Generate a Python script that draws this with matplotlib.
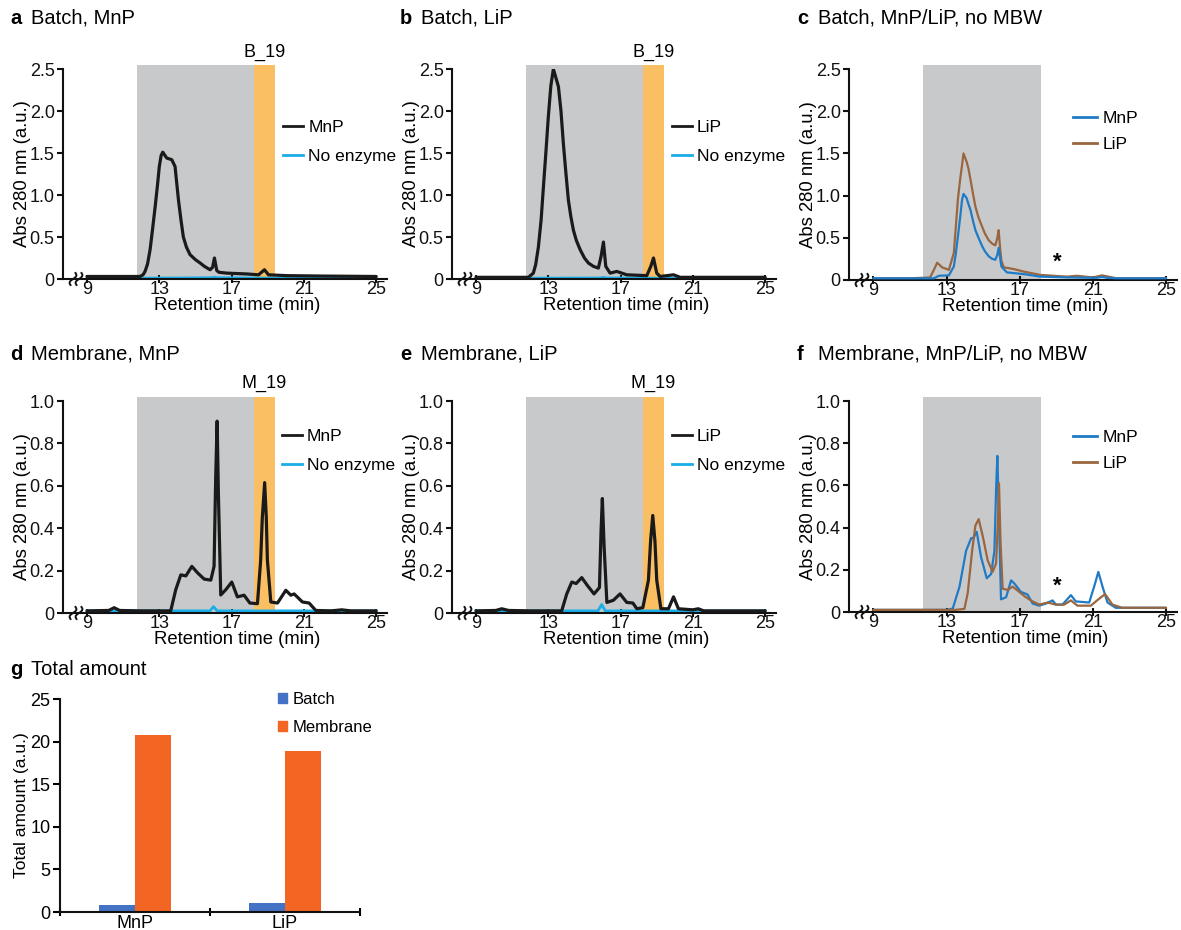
import numpy as np
import matplotlib
matplotlib.use("Agg")
import matplotlib.pyplot as plt
from matplotlib.patches import Patch
from matplotlib.lines import Line2D

plt.rcParams['font.family'] = ['Liberation Sans', 'DejaVu Sans']

# ---------------- data ----------------
# panel a: Batch, MnP
a_t = [9.0, 10.0, 11.0, 11.93, 12.1, 12.21, 12.35, 12.49, 12.63, 12.77, 12.9, 13.0, 13.1, 13.19,
       13.41, 13.69, 13.87, 14.06, 14.2, 14.33, 14.5, 14.7, 15.0, 15.26, 15.5, 15.81, 15.95,
       16.05, 16.18, 16.3, 16.73, 17.84, 18.49, 18.82, 19.04, 20.06, 22.0, 25.0]
a_mnp = [0.03, 0.03, 0.03, 0.03, 0.05, 0.09, 0.18, 0.35, 0.6, 0.86, 1.12, 1.34, 1.47, 1.51,
         1.44, 1.42, 1.34, 0.94, 0.7, 0.50, 0.38, 0.29, 0.23, 0.19, 0.15, 0.11, 0.14,
         0.25, 0.10, 0.08, 0.07, 0.06, 0.05, 0.11, 0.05, 0.04, 0.035, 0.03]
a_ne_t = [9.0, 12.0, 14.0, 15.9, 16.05, 16.2, 18.0, 21.0, 25.0]
a_ne = [0.02, 0.01, 0.012, 0.015, 0.022, 0.015, 0.012, 0.01, 0.01]

# panel b: Batch, LiP
b_t = [9.0, 10.0, 11.0, 11.9, 12.17, 12.3, 12.45, 12.6, 12.73, 12.87, 13.0, 13.14, 13.28, 13.56,
       13.7, 13.83, 13.97, 14.11, 14.25, 14.39, 14.55, 14.76, 15.0, 15.22, 15.5, 15.77, 15.92,
       16.05, 16.18, 16.42, 16.79, 17.34, 18.45, 18.67, 18.82, 19.0, 19.19, 19.93, 20.3, 22.0, 25.0]
b_lip = [0.02, 0.02, 0.02, 0.02, 0.07, 0.17, 0.38, 0.7, 1.10, 1.52, 1.93, 2.3, 2.50, 2.29,
         2.0, 1.62, 1.27, 0.94, 0.74, 0.58, 0.46, 0.35, 0.25, 0.19, 0.15, 0.13, 0.27,
         0.44, 0.15, 0.07, 0.09, 0.05, 0.04, 0.15, 0.25, 0.07, 0.03, 0.05, 0.02, 0.02, 0.02]
b_ne_t = [9.0, 12.0, 15.9, 16.05, 16.2, 19.0, 25.0]
b_ne = [0.015, 0.01, 0.012, 0.02, 0.012, 0.01, 0.01]

# panel c: Batch, MnP/LiP, no MBW
c_mnp_t = [9.0, 11.0, 12.31, 12.58, 13.13, 13.4, 13.5, 13.62, 13.75, 13.85, 13.93, 14.1, 14.2,
           14.31, 14.45, 14.58, 14.75, 14.95, 15.1, 15.31, 15.5, 15.67, 15.78, 15.85, 15.92,
           16.0, 16.3, 17.22, 18.13, 19.58, 21.2, 21.5, 21.8, 22.3, 25.0]
c_mnp = [0.02, 0.02, 0.02, 0.05, 0.055, 0.16, 0.3, 0.51, 0.75, 0.95, 1.02, 0.97, 0.9,
         0.83, 0.7, 0.59, 0.5, 0.40, 0.34, 0.28, 0.25, 0.24, 0.3, 0.38, 0.28,
         0.16, 0.09, 0.07, 0.04, 0.03, 0.025, 0.035, 0.025, 0.02, 0.02]
c_lip_t = [9.0, 11.0, 12.1, 12.31, 12.49, 12.76, 13.13, 13.4, 13.5, 13.62, 13.75, 13.85, 13.93,
           14.1, 14.2, 14.31, 14.45, 14.58, 14.75, 14.95, 15.1, 15.31, 15.5, 15.67, 15.78,
           15.85, 15.92, 16.0, 16.13, 16.67, 17.22, 18.13, 19.58, 20.13, 21.0, 21.5, 22.3, 25.0]
c_lip = [0.02, 0.02, 0.03, 0.12, 0.205, 0.15, 0.12, 0.32, 0.6, 0.95, 1.2, 1.36, 1.50,
         1.40, 1.32, 1.19, 1.02, 0.87, 0.74, 0.63, 0.55, 0.47, 0.43, 0.41, 0.5,
         0.59, 0.4, 0.23, 0.15, 0.13, 0.10, 0.06, 0.04, 0.05, 0.03, 0.055, 0.02, 0.02]

# panel d: Membrane, MnP
d_t = [9.0, 10.2, 10.5, 10.8, 12.0, 13.63, 13.91, 14.19, 14.47, 14.8, 15.11, 15.48, 15.85, 16.03,
       16.12, 16.2, 16.27, 16.4, 16.68, 17.01, 17.32, 17.69, 18.01, 18.43, 18.61, 18.7, 18.83,
       18.92, 18.98, 19.17, 19.54, 20.0, 20.28, 20.46, 20.92, 21.29, 21.66, 22.5, 23.1, 23.6, 25.0]
d_mnp = [0.01, 0.012, 0.025, 0.012, 0.01, 0.01, 0.11, 0.18, 0.175, 0.22, 0.19, 0.16, 0.155, 0.22,
         0.64, 0.905, 0.56, 0.085, 0.11, 0.146, 0.076, 0.084, 0.047, 0.044, 0.25, 0.45, 0.615,
         0.45, 0.25, 0.052, 0.047, 0.107, 0.084, 0.09, 0.052, 0.047, 0.012, 0.01, 0.015, 0.01, 0.01]
d_ne_t = [9.0, 15.8, 16.0, 16.2, 25.0]
d_ne = [0.01, 0.01, 0.03, 0.01, 0.01]

# panel e: Membrane, LiP
e_t = [9.0, 10.1, 10.42, 10.8, 12.0, 13.74, 14.02, 14.3, 14.54, 14.85, 15.16, 15.53, 15.83, 15.92,
       15.99, 16.09, 16.24, 16.6, 16.97, 17.34, 17.68, 17.9, 18.23, 18.54, 18.66, 18.78, 18.9,
       19.0, 19.23, 19.65, 19.93, 20.2, 21.0, 21.3, 21.6, 25.0]
e_lip = [0.01, 0.012, 0.02, 0.012, 0.01, 0.01, 0.09, 0.146, 0.139, 0.167, 0.13, 0.09, 0.12, 0.39,
         0.54, 0.31, 0.05, 0.06, 0.09, 0.05, 0.047, 0.02, 0.025, 0.155, 0.34, 0.46, 0.34,
         0.155, 0.02, 0.02, 0.076, 0.02, 0.015, 0.02, 0.01, 0.01]
e_ne_t = [9.0, 15.75, 15.95, 16.15, 25.0]
e_ne = [0.01, 0.01, 0.04, 0.01, 0.01]

# panel f: Membrane, MnP/LiP, no MBW
f_mnp_t = [9.0, 11.0, 13.0, 13.34, 13.71, 14.07, 14.35, 14.47, 14.65, 14.89, 15.2, 15.44, 15.62,
           15.71, 15.78, 15.85, 15.98, 16.26, 16.53, 16.71, 17.07, 17.43, 17.71, 18.07, 18.44,
           18.8, 18.98, 19.34, 19.8, 20.07, 20.8, 21.07, 21.3, 21.53, 21.8, 22.25, 25.0]
f_mnp = [0.01, 0.01, 0.01, 0.016, 0.12, 0.29, 0.35, 0.35, 0.38, 0.26, 0.16, 0.18, 0.29,
         0.58, 0.74, 0.50, 0.06, 0.07, 0.15, 0.135, 0.095, 0.083, 0.04, 0.03, 0.04,
         0.055, 0.035, 0.035, 0.08, 0.05, 0.045, 0.12, 0.19, 0.12, 0.045, 0.02, 0.02]
f_lip_t = [9.0, 11.0, 13.5, 13.98, 14.16, 14.4, 14.58, 14.76, 14.98, 15.25, 15.52, 15.71, 15.8,
           15.87, 15.95, 16.07, 16.34, 16.62, 16.98, 17.34, 17.71, 18.07, 18.53, 18.98, 19.43,
           19.8, 20.16, 20.89, 21.3, 21.67, 22.07, 22.6, 23.5, 25.0]
f_lip = [0.01, 0.01, 0.01, 0.015, 0.09, 0.29, 0.41, 0.44, 0.36, 0.245, 0.19, 0.23, 0.41,
         0.61, 0.34, 0.11, 0.105, 0.12, 0.095, 0.07, 0.05, 0.035, 0.045, 0.035, 0.035,
         0.055, 0.03, 0.03, 0.06, 0.085, 0.035, 0.02, 0.02, 0.02]

# panel g: Total amount
g_categories = ['MnP', 'LiP']
g_batch = [0.78, 1.08]
g_membrane = [20.77, 18.93]

x_ticks = [9, 13, 17, 21, 25]
y_ticks_top = [0, 0.5, 1.0, 1.5, 2.0, 2.5]
y_ticklabels_top = ['0', '0.5', '1.0', '1.5', '2.0', '2.5']
y_ticks_mid = [0, 0.2, 0.4, 0.6, 0.8, 1.0]
y_ticklabels_mid = ['0', '0.2', '0.4', '0.6', '0.8', '1.0']
g_yticks = [0, 5, 10, 15, 20, 25]

gray_span_ab = (11.75, 18.25)
orange_span = (18.25, 19.38)
gray_span_cf = (11.73, 18.15)

# ---------------- styles ----------------
BLACK = '#1a1a1a'
NOENZ = '#1aaee8'
BLUE = '#1f7bc6'
BROWN = '#9a6640'
GRAY = '#c8c9cb'
ORANGE = '#fbbf63'
BAR_BLUE = '#4472c4'
BAR_ORANGE = '#f26522'

W, H = 1181, 930
fig = plt.figure(figsize=(W / 100, H / 100), dpi=100)


def rect(left, bottom_px, width, height):
    return [left / W, 1 - bottom_px / H, width / W, height / H]


TICK_FS = 13
LAB_FS = 13.3
LEG_FS = 12.5
TITLE_FS = 14.5


def style_axes(ax, yt, ytl, ymax, width_px, height_px):
    for s in ['top', 'right']:
        ax.spines[s].set_visible(False)
    for s in ['left', 'bottom']:
        ax.spines[s].set_linewidth(1.5)
        ax.spines[s].set_color('#111111')
    ax.set_xlim(7.67, 25.6)
    ax.set_ylim(0, ymax)
    ax.set_xticks(x_ticks)
    ax.set_xticklabels([str(v) for v in x_ticks])
    ax.set_yticks(yt)
    ax.set_yticklabels(ytl)
    ax.tick_params(axis='x', labelsize=TICK_FS, width=1.5, length=6, direction='inout',
                   pad=-1.5, colors='#111111')
    ax.tick_params(axis='y', labelsize=TICK_FS, width=1.5, length=4, pad=2, colors='#111111')
    ax.set_xlabel('Retention time (min)', fontsize=LAB_FS)
    ax.xaxis.set_label_coords(0.537, -18 / height_px)
    ax.set_ylabel('Abs 280 nm (a.u.)', fontsize=LAB_FS)
    ax.yaxis.set_label_coords(-32 / width_px, 0.5)
    # axis break marks
    s = np.linspace(-1, 1, 30)
    for xc in (10 / width_px, 16 / width_px):
        ax.plot(xc + 2.5 / width_px * s + 2.0 / width_px * np.sin(np.pi * s),
                6 / height_px * s, transform=ax.transAxes, color='#111111',
                lw=1.4, clip_on=False, zorder=6)


def legend(ax, handles, labels, x, y, hl, ls):
    ax.legend(handles, labels, loc='center left', bbox_to_anchor=(x, y), frameon=False,
              fontsize=LEG_FS, handlelength=hl, handletextpad=0.3, borderpad=0,
              borderaxespad=0, labelspacing=ls)


def title(x_px, y_px, letter, text):
    fig.text(x_px / W, 1 - y_px / H, letter, fontsize=TITLE_FS, fontweight='bold', va='center')
    fig.text((x_px + 21) / W, 1 - y_px / H, text, fontsize=TITLE_FS, va='center')


LINE_KW = dict(solid_joinstyle='round', solid_capstyle='round')

# ---------- a ----------
axa = fig.add_axes(rect(63, 279, 324, 210))
axa.axvspan(*gray_span_ab, ymin=0, ymax=1.02, color=GRAY, lw=0, clip_on=False, zorder=0)
axa.axvspan(*orange_span, ymin=0, ymax=1.02, color=ORANGE, lw=0, clip_on=False, zorder=0)
axa.plot(a_ne_t, a_ne, color=NOENZ, lw=2, zorder=2)
axa.plot(a_t, a_mnp, color=BLACK, lw=2.3, zorder=3, **LINE_KW)
style_axes(axa, y_ticks_top, y_ticklabels_top, 2.5, 324, 210)
axa.text(np.mean(orange_span), 2.70, 'B_19', ha='center', va='center', fontsize=13, clip_on=False)
legend(axa, [Line2D([], [], color=BLACK, lw=2), Line2D([], [], color=NOENZ, lw=2)],
       ['MnP', 'No enzyme'], 0.679, 0.652, 1.15, 0.8)
title(10, 18, 'a', 'Batch, MnP')

# ---------- b ----------
axb = fig.add_axes(rect(452, 279, 324, 210))
axb.axvspan(*gray_span_ab, ymin=0, ymax=1.02, color=GRAY, lw=0, clip_on=False, zorder=0)
axb.axvspan(*orange_span, ymin=0, ymax=1.02, color=ORANGE, lw=0, clip_on=False, zorder=0)
axb.plot(b_ne_t, b_ne, color=NOENZ, lw=2, zorder=2)
axb.plot(b_t, b_lip, color=BLACK, lw=2.3, zorder=3, **LINE_KW)
style_axes(axb, y_ticks_top, y_ticklabels_top, 2.5, 324, 210)
axb.text(np.mean(orange_span), 2.70, 'B_19', ha='center', va='center', fontsize=13, clip_on=False)
legend(axb, [Line2D([], [], color=BLACK, lw=2), Line2D([], [], color=NOENZ, lw=2)],
       ['LiP', 'No enzyme'], 0.678, 0.652, 1.15, 0.8)
title(400, 18, 'b', 'Batch, LiP')

# ---------- c ----------
axc = fig.add_axes(rect(849, 280, 328, 211))
axc.axvspan(*gray_span_cf, ymin=0, ymax=1.02, color=GRAY, lw=0, clip_on=False, zorder=0)
axc.plot(c_mnp_t, c_mnp, color=BLUE, lw=1.6, zorder=3, **LINE_KW)
axc.plot(c_lip_t, c_lip, color=BROWN, lw=1.6, zorder=2, **LINE_KW)
style_axes(axc, y_ticks_top, y_ticklabels_top, 2.5, 328, 211)
axc.text(19.05, 0.21, '*', ha='center', va='center', fontsize=16, fontweight='bold')
legend(axc, [Line2D([], [], color=BLUE, lw=2), Line2D([], [], color=BROWN, lw=2)],
       ['MnP', 'LiP'], 0.683, 0.703, 1.4, 0.62)
title(797, 18, 'c', 'Batch, MnP/LiP, no MBW')

# ---------- d ----------
axd = fig.add_axes(rect(63, 613, 324, 212))
axd.axvspan(*gray_span_ab, ymin=0, ymax=1.02, color=GRAY, lw=0, clip_on=False, zorder=0)
axd.axvspan(*orange_span, ymin=0, ymax=1.02, color=ORANGE, lw=0, clip_on=False, zorder=0)
axd.plot(d_ne_t, d_ne, color=NOENZ, lw=2, zorder=2)
axd.plot(d_t, d_mnp, color=BLACK, lw=2.3, zorder=3, **LINE_KW)
style_axes(axd, y_ticks_mid, y_ticklabels_mid, 1.0, 324, 212)
axd.text(np.mean(orange_span), 1.085, 'M_19', ha='center', va='center', fontsize=13, clip_on=False)
legend(axd, [Line2D([], [], color=BLACK, lw=2), Line2D([], [], color=NOENZ, lw=2)],
       ['MnP', 'No enzyme'], 0.675, 0.765, 1.15, 0.78)
title(10, 354, 'd', 'Membrane, MnP')

# ---------- e ----------
axe = fig.add_axes(rect(452, 613, 324, 212))
axe.axvspan(*gray_span_ab, ymin=0, ymax=1.02, color=GRAY, lw=0, clip_on=False, zorder=0)
axe.axvspan(*orange_span, ymin=0, ymax=1.02, color=ORANGE, lw=0, clip_on=False, zorder=0)
axe.plot(e_ne_t, e_ne, color=NOENZ, lw=2, zorder=2)
axe.plot(e_t, e_lip, color=BLACK, lw=2.3, zorder=3, **LINE_KW)
style_axes(axe, y_ticks_mid, y_ticklabels_mid, 1.0, 324, 212)
axe.text(np.mean(orange_span), 1.085, 'M_19', ha='center', va='center', fontsize=13, clip_on=False)
legend(axe, [Line2D([], [], color=BLACK, lw=2), Line2D([], [], color=NOENZ, lw=2)],
       ['LiP', 'No enzyme'], 0.678, 0.765, 1.15, 0.78)
title(400, 354, 'e', 'Membrane, LiP')

# ---------- f ----------
axf = fig.add_axes(rect(849, 612, 328, 211))
axf.axvspan(*gray_span_cf, ymin=0, ymax=1.02, color=GRAY, lw=0, clip_on=False, zorder=0)
axf.plot(f_mnp_t, f_mnp, color=BLUE, lw=1.6, zorder=2, **LINE_KW)
axf.plot(f_lip_t, f_lip, color=BROWN, lw=1.6, zorder=3, **LINE_KW)
style_axes(axf, y_ticks_mid, y_ticklabels_mid, 1.0, 328, 211)
axf.text(19.07, 0.12, '*', ha='center', va='center', fontsize=16, fontweight='bold')
legend(axf, [Line2D([], [], color=BLUE, lw=2), Line2D([], [], color=BROWN, lw=2)],
       ['MnP', 'LiP'], 0.683, 0.765, 1.4, 0.65)
title(797, 354, 'f', 'Membrane, MnP/LiP, no MBW')

# ---------- g ----------
axg = fig.add_axes(rect(60, 912, 300, 213))
xg = np.arange(len(g_categories))
bw = 0.24
axg.bar(xg - bw / 2, g_batch, width=bw, color=BAR_BLUE, label='Batch')
axg.bar(xg + bw / 2, g_membrane, width=bw, color=BAR_ORANGE, label='Membrane')
for s in ['top', 'right']:
    axg.spines[s].set_visible(False)
for s in ['left', 'bottom']:
    axg.spines[s].set_linewidth(1.5)
    axg.spines[s].set_color('#111111')
axg.set_xlim(-0.5, 1.5)
axg.set_ylim(0, 25)
axg.set_yticks(g_yticks)
axg.set_yticklabels([str(v) for v in g_yticks])
axg.set_xticks([-0.5, 0.5, 1.5])
axg.set_xticklabels([])
axg.set_xticks(xg, minor=True)
axg.set_xticklabels(g_categories, minor=True)
axg.tick_params(axis='x', which='major', width=1.5, length=6, direction='inout')
axg.tick_params(axis='x', which='minor', length=0, pad=2, labelsize=TICK_FS)
axg.tick_params(axis='y', labelsize=TICK_FS, width=1.5, length=5, pad=2)
axg.set_ylabel('Total amount (a.u.)', fontsize=12.5)
axg.yaxis.set_label_coords(-31 / 300, 0.5)
axg.legend(handles=[Patch(color=BAR_BLUE), Patch(color=BAR_ORANGE)],
           labels=['Batch', 'Membrane'], loc='center left', bbox_to_anchor=(0.727, 0.932),
           frameon=False, fontsize=12, handlelength=0.55, handleheight=0.55,
           handletextpad=0.3, borderpad=0, borderaxespad=0, labelspacing=0.75)
fig.text(10 / W, 1 - 669 / H, 'g', fontsize=TITLE_FS, fontweight='bold', va='center')
fig.text(31 / W, 1 - 669 / H, 'Total amount', fontsize=TITLE_FS, va='center')

fig.savefig('out.png', dpi=100)
